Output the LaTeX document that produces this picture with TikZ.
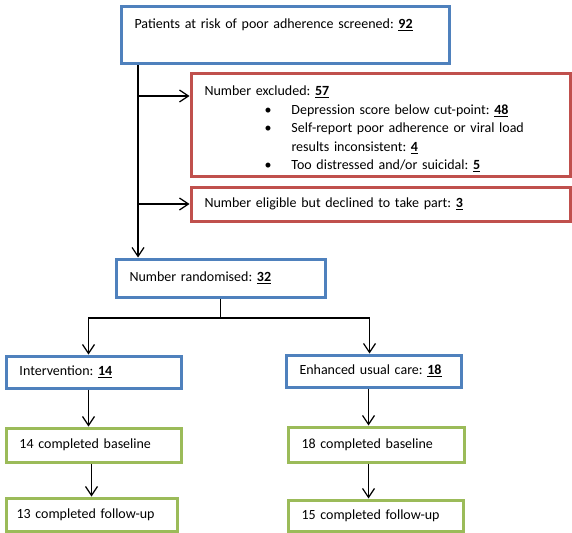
\documentclass[tikz,border=0pt]{standalone}
\usepackage{fontspec}
\setmainfont{Carlito}
\usetikzlibrary{arrows.meta}
\definecolor{boxblue}{RGB}{79,129,189}
\definecolor{boxred}{RGB}{192,80,77}
\definecolor{boxgreen}{RGB}{155,187,89}
\def\tally#1{\textbf{\underline{#1}}}
\def\bul{\makebox[27pt][l]{\textbullet}}
\frenchspacing
\tikzset{
	box/.style={draw, line width=3pt, anchor=north west, align=left, inner xsep=13.5pt, inner ysep=0pt, font=\fontsize{14}{18.5}\selectfont},
	bluebox/.style={box, draw=boxblue},
	redbox/.style={box, draw=boxred},
	greenbox/.style={box, draw=boxgreen},
	arr/.style={line width=1.2pt, -{Straight Barb[length=9pt,width=12pt]}}
}

\begin{document}
\begin{tikzpicture}[x=1pt, y=-1pt]
				\useasboundingbox (0,0) rectangle (572,532);
				
				%screening and exclusions
				\node[bluebox, text width=301pt, minimum height=57pt] (screen) at (119.5,5.5) {Patients at risk of poor adherence screened: \tally{92}\\ \strut};
				\node[redbox, text width=352pt, minimum height=102pt] (excl) at (189.5,72.5) {\rule{0pt}{18pt}Number excluded: \tally{57}\\
					\hspace*{60pt}\bul Depression score below cut-point: \tally{48}\\
					\hspace*{60pt}\bul Self-report poor adherence or viral load\\
					\hspace*{87pt}results inconsistent: \tally{4}\\
					\hspace*{60pt}\bul Too distressed and/or suicidal: \tally{5}};
				\node[redbox, text width=352pt, minimum height=34pt] (decl) at (189.5,185.5) {Number eligible but declined to take part: \tally{3}};
				\node[bluebox, text width=182pt, minimum height=38pt] (rand) at (114.5,257.5) {Number randomised: \tally{32}};
				
				%the two arms
				\node[bluebox, text width=148pt, minimum height=32pt] (interv) at (4.5,354.5) {Intervention: \tally{14}};
				\node[bluebox, text width=148pt, minimum height=32pt] (usual) at (284.5,353.5) {Enhanced usual care: \tally{18}};
				\node[greenbox, text width=148pt, minimum height=34pt] (baseL) at (4.5,426.5) {14 completed baseline};
				\node[greenbox, text width=149pt, minimum height=35pt] (baseR) at (286.5,425.5) {18 completed baseline};
				\node[greenbox, inner xsep=10.5pt, text width=150pt, minimum height=33pt] (fupL) at (4.5,496.5) {13 completed follow-up};
				\node[greenbox, text width=148pt, minimum height=31pt] (fupR) at (286.5,498.5) {15 completed follow-up};
				
				%arrows down the left side
				\coordinate (trunk) at ([xshift=18.5pt]screen.south west);
				\coordinate (exclin) at ([yshift=-23.5pt]excl.north west);
				\draw[arr] (trunk) -- (trunk |- rand.north);
				\draw[arr] (trunk |- exclin) -- (exclin);
				\draw[arr] (trunk |- decl.west) -- (decl.west);
				
				%splitting into the arms
				\coordinate (split) at ([yshift=-19.5pt]rand.south);
				\draw[line width=1.2pt] (rand.south) -- (split);
				\draw[arr] (split) -| ([xshift=-5pt]interv.north);
				\draw[arr] (split) -| ([xshift=-4pt]usual.north);
				\draw[arr] ([xshift=-5pt]interv.south) -- ([xshift=-5pt]baseL.north);
				\draw[arr] (fupL.north |- baseL.south) -- (fupL.north);
				\draw[arr] ([xshift=-5pt]usual.south) -- ([xshift=-5pt]usual.south |- baseR.north);
				\draw[arr] ([xshift=-7pt]fupR.north |- baseR.south) -- ([xshift=-7pt]fupR.north);
			\end{tikzpicture}
\end{document}
